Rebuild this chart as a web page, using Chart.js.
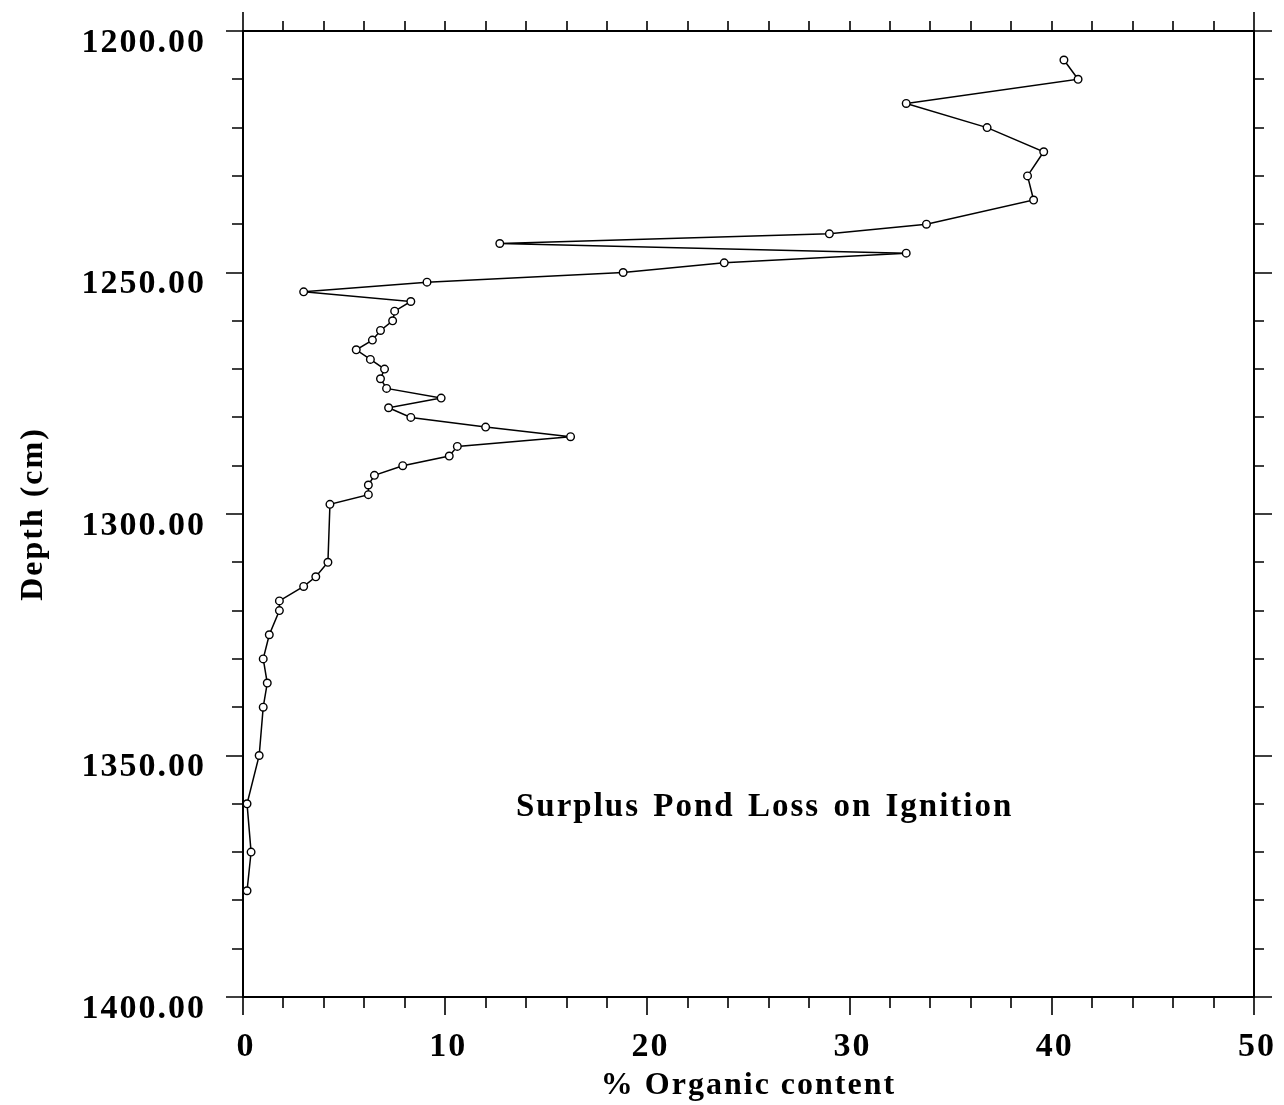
<!DOCTYPE html>
<html>
<head>
<meta charset="utf-8">
<script src="https://cdn.jsdelivr.net/npm/chart.js@4.4.1/dist/chart.umd.min.js"></script>
<style>
  html, body { margin: 0; padding: 0; background: #fff; }
  #wrap { width: 1284px; height: 1105px; }
</style>
</head>
<body>
<div id="wrap"><canvas id="chart" width="1284" height="1105"></canvas></div>
<script>
// depth below datum (cm) and loss-on-ignition organic content (%)
const depth = [1206, 1210, 1215, 1220, 1225, 1230, 1235, 1240, 1242, 1244,
  1246, 1248, 1250, 1252, 1254, 1256, 1258, 1260, 1262, 1264,
  1266, 1268, 1270, 1272, 1274, 1276, 1278, 1280, 1282, 1284,
  1286, 1288, 1290, 1292, 1294, 1296, 1298, 1310, 1313, 1315,
  1318, 1320, 1325, 1330, 1335, 1340, 1350, 1360, 1370, 1378];
const organic = [40.6, 41.3, 32.8, 36.8, 39.6, 38.8, 39.1, 33.8, 29.0, 12.7,
  32.8, 23.8, 18.8, 9.1, 3.0, 8.3, 7.5, 7.4, 6.8, 6.4,
  5.6, 6.3, 7.0, 6.8, 7.1, 9.8, 7.2, 8.3, 12.0, 16.2,
  10.6, 10.2, 7.9, 6.5, 6.2, 6.2, 4.3, 4.2, 3.6, 3.0,
  1.8, 1.8, 1.3, 1.0, 1.2, 1.0, 0.8, 0.2, 0.4, 0.2];

const xRange = [0, 50];
const yRange = [1200, 1400];
const noteText = "Surplus Pond Loss on Ignition";
const notePos = { x: 25.8, y: 1362.5 };

const SERIF = "'Liberation Serif', 'Times New Roman', serif";

// stop the layout from shrinking the plot for overhanging end labels
function noOverhang(s) {
  s.paddingTop = 0; s.paddingBottom = 0;
  s.paddingLeft = 0; s.paddingRight = 0;
}

// outward tick marks on all four sides, minor + major
const frameTicks = {
  id: "frameTicks",
  beforeDraw(chart) {
    chart.ctx.letterSpacing = "2px";
  },
  afterDraw(chart) {
    const { ctx, chartArea: a } = chart;
    const sx = chart.scales.x, sy = chart.scales.y;
    ctx.save();
    ctx.strokeStyle = "#000";
    ctx.lineWidth = 1.6;
    ctx.beginPath();
    for (let v = xRange[0]; v <= xRange[1]; v += 2) {
      const px = Math.round(sx.getPixelForValue(v));
      const major = v % 10 === 0;
      ctx.moveTo(px, a.bottom); ctx.lineTo(px, a.bottom + (major ? 18 : 11));
      const topMajor = v === xRange[0] || v === xRange[1];
      ctx.moveTo(px, a.top); ctx.lineTo(px, a.top - (topMajor ? 19 : 10));
    }
    for (let v = yRange[0]; v <= yRange[1]; v += 10) {
      const py = Math.round(sy.getPixelForValue(v));
      const major = v % 50 === 0;
      ctx.moveTo(a.left, py); ctx.lineTo(a.left - (major ? 17 : 11), py);
      ctx.moveTo(a.right, py); ctx.lineTo(a.right + (major ? 18 : 10), py);
    }
    ctx.stroke();

    // caption inside the plot
    ctx.fillStyle = "#000";
    ctx.font = "bold 33px " + SERIF;
    ctx.letterSpacing = "2px";
    ctx.wordSpacing = "3px";
    ctx.textAlign = "center";
    ctx.textBaseline = "alphabetic";
    ctx.fillText(noteText, sx.getPixelForValue(notePos.x), sy.getPixelForValue(notePos.y));
    ctx.restore();
  }
};

new Chart(document.getElementById("chart"), {
  type: "scatter",
  data: {
    datasets: [{
      label: "LOI",
      data: depth.map((d, i) => ({ x: organic[i], y: d })),
      showLine: true,
      borderColor: "#000",
      borderWidth: 1.5,
      pointRadius: 3.8,
      pointBorderWidth: 1.4,
      pointBackgroundColor: "#fff",
      pointBorderColor: "#000",
      tension: 0
    }]
  },
  options: {
    responsive: false,
    animation: false,
    layout: { padding: 0 },
    plugins: { legend: { display: false }, tooltip: { enabled: false } },
    scales: {
      x: {
        type: "linear",
        position: "bottom",
        min: xRange[0], max: xRange[1],
        grid: { display: false, drawTicks: false },
        border: { display: true, color: "#000", width: 2 },
        ticks: {
          stepSize: 10,
          padding: 30,
          labelOffset: 3,
          color: "#000",
          font: { family: SERIF, size: 34, weight: "bold" }
        },
        title: {
          display: true,
          text: "% Organic content",
          color: "#000",
          padding: { top: 0, bottom: 0 },
          font: { family: SERIF, size: 32, weight: "bold" }
        },
        afterFit(s) { s.height = 108; noOverhang(s); }
      },
      x2: {
        type: "linear",
        position: "top",
        display: true,
        min: xRange[0], max: xRange[1],
        grid: { display: false, drawTicks: false },
        border: { display: true, color: "#000", width: 2 },
        ticks: { display: false },
        afterFit(s) { s.height = 31; noOverhang(s); }
      },
      y: {
        type: "linear",
        position: "left",
        reverse: true,
        min: yRange[0], max: yRange[1],
        grid: { display: false, drawTicks: false },
        border: { display: true, color: "#000", width: 2 },
        ticks: {
          stepSize: 50,
          padding: 37,
          labelOffset: 12,
          color: "#000",
          font: { family: SERIF, size: 34, weight: "bold" },
          callback: (v) => Number(v).toFixed(2)
        },
        title: {
          display: true,
          text: "Depth (cm)",
          color: "#000",
          padding: { top: 15, bottom: 0 },
          font: { family: SERIF, size: 32, weight: "bold" }
        },
        afterFit(s) { s.width = 243; noOverhang(s); }
      },
      y2: {
        type: "linear",
        position: "right",
        display: true,
        reverse: true,
        min: yRange[0], max: yRange[1],
        grid: { display: false, drawTicks: false },
        border: { display: true, color: "#000", width: 2 },
        ticks: { display: false },
        afterFit(s) { s.width = 30; noOverhang(s); }
      }
    }
  },
  plugins: [frameTicks]
});
</script>
</body>
</html>
